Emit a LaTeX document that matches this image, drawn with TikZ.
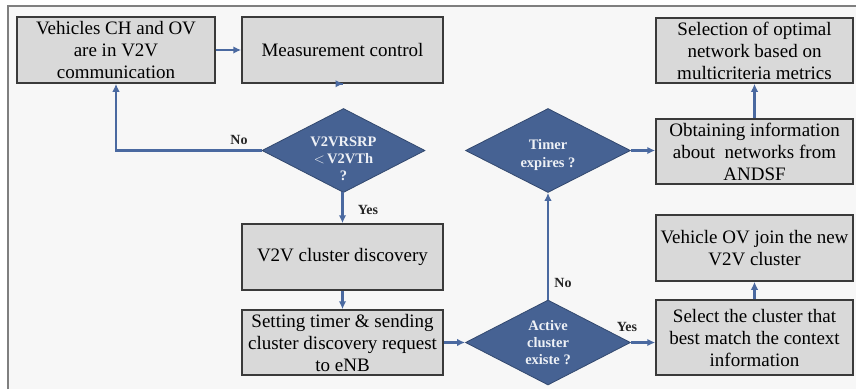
\documentclass[tikz,border=0pt]{standalone}
\usepackage{fontspec}
\setmainfont{Liberation Serif}
\usetikzlibrary{shapes.geometric,arrows.meta}
\definecolor{boxfill}{HTML}{D9D9D9}
\definecolor{boxline}{HTML}{3A3A3A}
\definecolor{diafill}{HTML}{466293}
\definecolor{dialine}{HTML}{33496F}
\definecolor{arrowcol}{HTML}{4A69A0}
\definecolor{bgfill}{HTML}{F7F7F7}
\definecolor{framecol}{HTML}{7F7F7F}
\definecolor{diatext}{HTML}{EEF1F6}
\begin{document}
\begin{tikzpicture}[x=1pt,y=-1pt,
  procbox/.style={draw=boxline,fill=boxfill,line width=1.5pt,inner sep=0pt,align=center,
    font=\fontsize{19}{22}\selectfont},
  dia/.style={diamond,draw=dialine,line width=0.8pt,fill=diafill,inner sep=0pt,minimum width=#1},
  dtext/.style={text=diatext,align=center,inner sep=0pt,font=\bfseries\fontsize{14.5}{17}\selectfont},
  lbl/.style={text=black!85,inner sep=0pt,font=\bfseries\fontsize{14}{16}\selectfont},
  conn/.style={draw=arrowcol,line width=2.1pt,-{Latex[length=8pt,width=7.5pt]}}
]
\useasboundingbox (0,0) rectangle (856,389);
\fill[white] (0,0) rectangle (856,389);
\fill[bgfill] (8,6) rectangle (856,389);
\draw[framecol,line width=1.5pt] (8,389) -- (8,6) -- (856,6);

% process boxes
\node[procbox,minimum width=198pt,minimum height=66pt] (A) at (116,50) {Vehicles CH and OV\\are in V2V\\communication};
\node[procbox,minimum width=201pt,minimum height=66pt] (B) at (342.5,50) {Measurement control};
\node[procbox,minimum width=201pt,minimum height=66pt] (C) at (342.5,257) {V2V cluster discovery};
\node[procbox,minimum width=201pt,minimum height=65pt] (D) at (342.5,342.5) {Setting timer \& sending\\cluster discovery request\\to eNB};
\node[procbox,minimum width=197pt,minimum height=65pt] (F) at (754.5,50.5) {Selection of optimal\\network based on\\multicriteria metrics};
\node[procbox,minimum width=197pt,minimum height=65pt] (E) at (754.5,151.5) {Obtaining information\\about\ \ networks from\\ANDSF};
\node[procbox,minimum width=197pt,minimum height=66pt] (G) at (754.5,248) {Vehicle OV join the new\\V2V cluster};
\node[procbox,minimum width=197pt,minimum height=75pt] (H) at (754.5,337.5) {Select the cluster that\\best match the context\\information};

% decisions
\node[dia=163pt,minimum height=84pt] (d1) at (343.5,150.5) {};
\node[dtext] (d1t) at ([yshift=-8pt]d1.center) {V2VRSRP\\$<$\,V2VTh\\?};
\node[dia=165pt,minimum height=84pt] (d3) at (548,150.5) {};
\node[dtext,font=\bfseries\fontsize{14.5}{18}\selectfont] (d3t) at ([yshift=-5pt]d3.center) {Timer\\expires ?};
\node[dia=165pt,minimum height=85pt] (d2) at (548,342.5) {};
\node[dtext] (d2t) at (d2.center) {Active\\cluster\\existe ?};

% connectors
\draw[conn] (A.east) -- (A.east -| B.west);
\draw[conn] (B.south) -- (B.south -| d1.north);
\draw[conn] (d1.west) -| (A.south);
\draw[conn] (d1.south) -- (d1.south -| C.north) -- (C.north);
\draw[conn] (C.south) -- (D.north);
\draw[conn] (D.east) -- (d2.west);
\draw[conn] (d2.north) -- (d3.south);
\draw[conn] (d3.east) -- (d3.east -| E.west);
\draw[conn] (E.north) -- (E.north |- F.south);
\draw[conn] (d2.east) -- (d2.east -| H.west);
\draw[conn] (H.north) -- (G.south);

% labels
\node[lbl] (lno1) at (239,140) {No};
\node[lbl] (lyes1) at (368,210) {Yes};
\node[lbl] (lno2) at (563,283) {No};
\node[lbl] (lyes2) at (627,327) {Yes};
\end{tikzpicture}
\end{document}
